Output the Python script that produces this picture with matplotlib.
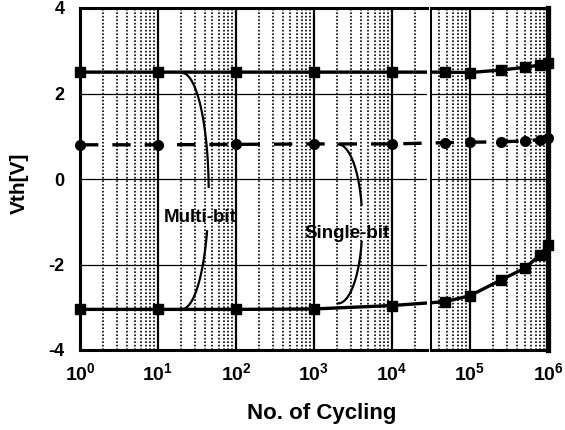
import numpy as np
import matplotlib
matplotlib.use("Agg")
from matplotlib import pyplot as plt
from matplotlib.ticker import LogLocator, NullFormatter, FuncFormatter

plt.rcParams['font.family'] = ['Liberation Sans', 'DejaVu Sans']
plt.rcParams['font.weight'] = 'bold'
plt.rcParams['axes.unicode_minus'] = False
plt.rcParams['mathtext.fontset'] = 'custom'
plt.rcParams['mathtext.rm'] = 'Liberation Sans:bold'
plt.rcParams['mathtext.bf'] = 'Liberation Sans:bold'

cycles = np.array([1, 10, 100, 1e3, 1e4, 4.8e4, 1e5, 2.5e5, 5e5, 8e5, 1e6])
vth_top = np.array([2.5, 2.5, 2.5, 2.5, 2.5, 2.5, 2.49, 2.55, 2.61, 2.67, 2.72])
vth_mid = np.array([0.8, 0.8, 0.81, 0.82, 0.82, 0.85, 0.86, 0.87, 0.89, 0.92, 0.96])
vth_bot = np.array([-3.05, -3.05, -3.05, -3.04, -2.96, -2.87, -2.73, -2.36, -2.09, -1.77, -1.55])
yticks = [-4, -2, 0, 2, 4]
x_break = 10**4.45  # axis break between the two panels

# brace shapes: (log10 x centre, half width in decades, y centre, half height, gaps in degrees)
multi_brace = (1.31, 0.34, -0.28, 2.76, 2, -20)
single_brace = (3.31, 0.31, -1.05, 1.86, 14, -13)

fig = plt.figure(figsize=(5.65, 4.3), dpi=100)
axL = fig.add_axes([80/565, 80/430, 347/565, 342/430])
axR = fig.add_axes([431/565, 80/430, 117/565, 342/430], sharey=axL)

for ax, keep in ((axL, cycles <= x_break), (axR, cycles > x_break)):
    ax.set_xscale('log')
    ax.set_ylim(-4, 4)
    ax.set_yticks(yticks)
    ax.xaxis.set_minor_locator(LogLocator(base=10, subs=np.arange(2, 10), numticks=20))
    ax.xaxis.set_minor_formatter(NullFormatter())
    ax.xaxis.set_major_formatter(FuncFormatter(
        lambda v, p: r'$\mathbf{10^{%d}}$' % int(round(np.log10(v)))))
    ax.grid(True, which='major', axis='x', color='k', lw=1.6, ls='-')
    ax.grid(True, which='minor', axis='x', color='k', lw=1.2, ls=(0, (1, 1.1)))
    ax.grid(True, which='major', axis='y', color='k', lw=0.9)
    ax.tick_params(which='both', length=0)
    ax.tick_params(axis='x', pad=9, labelsize=14)
    ax.tick_params(axis='y', pad=11, labelsize=13)
    ax.plot(cycles, vth_top, 'k-', lw=2.4, zorder=5)
    ax.plot(cycles, vth_mid, 'k--', lw=2.4, dashes=(5.5, 4.2), zorder=5)
    ax.plot(cycles, vth_bot, 'k-', lw=2.4, zorder=5)
    ax.plot(cycles[keep], vth_top[keep], 'ks', ms=7, clip_on=False, zorder=7)
    ax.plot(cycles[keep], vth_mid[keep], 'ko', ms=7, clip_on=False, zorder=7)
    ax.plot(cycles[keep], vth_bot[keep], 'ks', ms=7, clip_on=False, zorder=7)
    for s in ax.spines.values():
        s.set_linewidth(2.2)
        s.set_zorder(6)

axL.set_xlim(1, x_break)
axR.set_xlim(10**4.5, 1e6)
axL.spines['right'].set_visible(False)
axR.spines['left'].set_linewidth(1.4)
axR.spines['right'].set_linewidth(3.8)
axR.tick_params(labelleft=False)

def brace(ax, xc, a, yc, b, g1, g2):
    for t0, t1 in ((90, g1), (g2, -90)):
        t = np.radians(np.linspace(t0, t1, 60))
        ax.plot(10**(xc + a*np.cos(t)), yc + b*np.sin(t), 'k-', lw=1.6, zorder=4)

brace(axL, *multi_brace)
brace(axL, *single_brace)
axL.text(10**1.54, -0.91, 'Multi-bit', fontsize=13.5, fontweight='bold',
         ha='center', va='center', zorder=8)
axL.text(10**3.42, -1.27, 'Single-bit', fontsize=13.5, fontweight='bold',
         ha='center', va='center', zorder=8)

fig.text(322/565, 1 - 413/430, 'No. of Cycling', fontsize=16, fontweight='bold',
         ha='center', va='center')
fig.text(19/565, 1 - 183/430, 'Vth[V]', fontsize=15, fontweight='bold',
         ha='center', va='center', rotation=90)

fig.savefig('out.png', dpi=100)
